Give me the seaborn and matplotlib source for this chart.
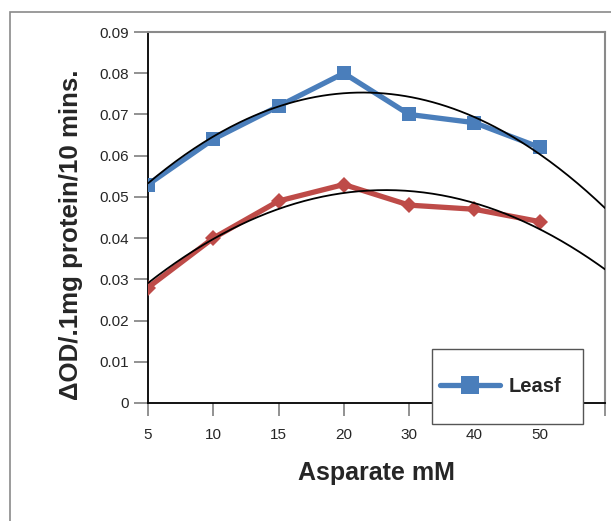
import numpy as np
import pandas as pd
import matplotlib
matplotlib.use("Agg")
import matplotlib.pyplot as plt
from matplotlib.patches import Rectangle
import seaborn as sns

# Asparate concentration (mM) and activity readings
concentrations = ["5", "10", "15", "20", "30", "40", "50"]
leaf_activity = [0.053, 0.064, 0.072, 0.080, 0.070, 0.068, 0.062]
root_activity = [0.028, 0.040, 0.049, 0.053, 0.048, 0.047, 0.044]
y_ticks = [0, 0.01, 0.02, 0.03, 0.04, 0.05, 0.06, 0.07, 0.08, 0.09]
y_tick_labels = ["0", "0.01", "0.02", "0.03", "0.04", "0.05", "0.06", "0.07", "0.08", "0.09"]

sns.set_style("white")
plt.rcParams["font.family"] = ["Liberation Sans", "DejaVu Sans"]

BLUE = "#4A7EBB"
RED = "#BE4B48"

df = pd.DataFrame({
    "pos": np.arange(len(concentrations)),
    "Leasf": leaf_activity,
    "Root": root_activity,
})

W, H = 611, 521
fig = plt.figure(figsize=(W / 100, H / 100), dpi=100)
ax = fig.add_axes([148 / W, 1 - 403 / H, (605 - 148) / W, (403 - 32) / H])

# outer chart frame
fig.patches.append(Rectangle((10 / W, -0.1), 1.2, 1 - 12 / H + 0.1,
                             transform=fig.transFigure, fill=False,
                             edgecolor="#8a8a8a", linewidth=1.2, zorder=0))

sns.lineplot(data=df, x="pos", y="Leasf", ax=ax, color=BLUE, linewidth=3.8,
             marker="s", markersize=10, markeredgewidth=0, label="Leasf", zorder=3)
sns.lineplot(data=df, x="pos", y="Root", ax=ax, color=RED, linewidth=3.8,
             marker="D", markersize=8, markeredgewidth=0, legend=False, zorder=3)

# second-order trendlines, extended one step forward
xs = np.linspace(0, 7, 200)
for vals in (leaf_activity, root_activity):
    coef = np.polyfit(df["pos"], vals, 2)
    ax.plot(xs, np.polyval(coef, xs), color="black", linewidth=1.3, zorder=4)

ax.set_xlim(0, 7)
ax.set_ylim(0, 0.09)
ax.set_xticks(range(8))
ax.set_xticklabels(concentrations + [""])
ax.set_yticks(y_ticks)
ax.set_yticklabels(y_tick_labels)

for side in ("left", "bottom"):
    ax.spines[side].set_color("black")
    ax.spines[side].set_linewidth(1.3)
for side in ("top", "right"):
    ax.spines[side].set_color("#8a8a8a")
    ax.spines[side].set_linewidth(1.5)

ax.tick_params(axis="y", direction="out", length=10, width=1.2, color="#7f7f7f",
               labelsize=11, pad=4, left=True)
ax.tick_params(axis="x", direction="out", length=9, width=1.2, color="#7f7f7f",
               labelsize=11, pad=9, bottom=True)

ax.set_xlabel("Asparate mM", fontsize=18, fontweight="bold", labelpad=14)
ax.set_ylabel("ΔOD/.1mg protein/10 mins.", fontsize=18.6, fontweight="bold")
ax.yaxis.set_label_coords((83 - 148) / 457, (403 - 235) / 371)

# legend box straddling the x axis
ax_w, ax_h = 605 - 148, 403 - 32
box = Rectangle(((432 - 148) / ax_w, (403 - 424) / ax_h),
                (583 - 432) / ax_w, (424 - 349) / ax_h,
                transform=ax.transAxes, facecolor="white", edgecolor="#555555",
                linewidth=1.0, clip_on=False, zorder=5)
ax.add_patch(box)
leg = ax.legend(loc="center left",
                bbox_to_anchor=((440 - 148) / ax_w, (403 - 387) / ax_h),
                frameon=False, borderpad=0, borderaxespad=0,
                handlelength=3.0, handletextpad=0.4, markerscale=1.3,
                prop={"weight": "bold", "size": 14.5})
leg.set_zorder(6)

fig.savefig("out.png", dpi=100)
